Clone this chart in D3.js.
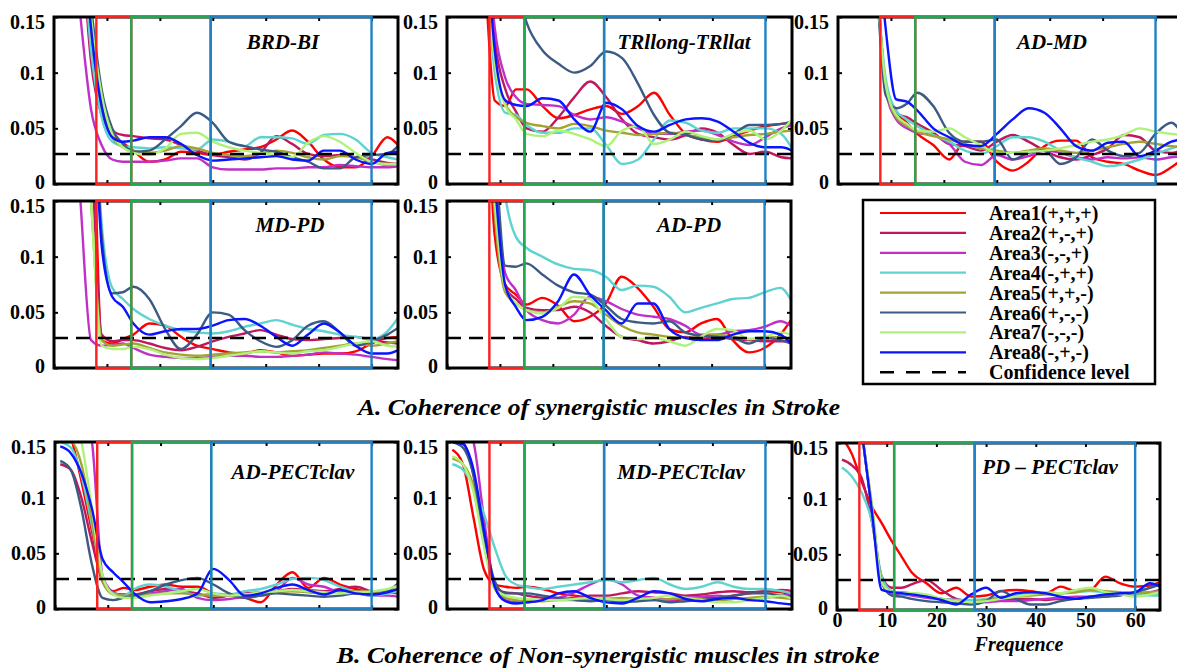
<!DOCTYPE html>
<html>
<head>
<meta charset="utf-8">
<script src="https://cdn.jsdelivr.net/npm/d3@7"></script>
<style>
  body { margin: 0; background: #fff; }
  svg { display: block; }
</style>
</head>
<body>
<div id="chart"></div>
<script>
// frequency samples (Hz) shared by every curve
const freqs = [1, 3, 5, 7, 9, 11, 13, 15, 18, 21, 24, 27, 30, 33, 36, 39, 42, 45, 48, 51, 54, 57, 60, 63, 65];

const areaNames = ['Area1(+,+,+)', 'Area2(+,-,+)', 'Area3(-,-,+)', 'Area4(-,+,+)',
  'Area5(+,+,-)', 'Area6(+,-,-)', 'Area7(-,-,-)', 'Area8(-,+,-)'];
const areaColors = ['#ff0000', '#c0185f', '#c030c8', '#5fd3cf', '#a3a332', '#3b5b84', '#aef27a', '#0a14ff'];

// coherence values are stored x1000
const yTicks = [0, 50, 100, 150];
const yTickLabels = ['0', '0.05', '0.1', '0.15'];
const xTicks = [0, 10, 20, 30, 40, 50, 60];
const xTickLabels = ['0', '10', '20', '30', '40', '50', '60'];
const confidenceLevel = 27;

// band boxes (Hz): red, green, blue
const bandEdges = [8, 14.6, 29.6, 60];
const bandEdgesPd = [4.5, 11.5, 27.7, 60];
const bandColors = ['#ff1f1f', '#22a84f', '#1f80c6'];

// A. synergistic muscles, one row per area
const brdBi = [
  [400, 350, 250, 120, 70, 45, 37, 30, 20, 22, 29, 28, 26, 29, 31, 33, 40, 48, 38, 22, 15, 15, 25, 42, 35],
  [400, 330, 230, 110, 62, 48, 44, 43, 41, 40, 35, 30, 26, 24, 22, 28, 43, 36, 27, 25, 26, 24, 22, 19, 18],
  [350, 250, 150, 67, 35, 22, 20, 20, 20, 21, 23, 23, 15, 13, 13, 13, 14, 14, 15, 15, 17, 16, 15, 15, 16],
  [400, 330, 240, 120, 60, 38, 34, 33, 32, 33, 32, 31, 40, 38, 34, 42, 42, 41, 36, 44, 45, 40, 28, 24, 22],
  [420, 360, 260, 140, 70, 42, 33, 30, 28, 30, 34, 32, 28, 26, 25, 27, 30, 28, 24, 22, 25, 24, 20, 17, 18],
  [400, 350, 260, 160, 85, 50, 36, 29, 30, 40, 52, 64, 55, 38, 34, 31, 29, 24, 20, 14, 14, 24, 26, 27, 34],
  [420, 360, 270, 150, 80, 45, 33, 28, 26, 32, 45, 46, 38, 33, 30, 28, 26, 24, 37, 43, 38, 28, 20, 18, 18],
  [420, 360, 260, 140, 70, 42, 38, 39, 42, 42, 36, 26, 21, 22, 23, 24, 25, 22, 21, 30, 30, 22, 18, 28, 29]
];
const trlongTrlat = [
  [500, 450, 350, 200, 75, 70, 85, 85, 70, 59, 62, 67, 70, 63, 70, 82, 62, 45, 40, 38, 43, 48, 52, 54, 55],
  [500, 450, 380, 260, 130, 85, 65, 50, 47, 60, 78, 92, 78, 58, 45, 42, 40, 44, 50, 46, 35, 27, 29, 24, 23],
  [500, 450, 380, 260, 140, 95, 78, 72, 71, 70, 62, 58, 60, 56, 50, 45, 45, 47, 48, 44, 38, 35, 42, 50, 53],
  [500, 450, 350, 220, 100, 64, 62, 53, 46, 46, 50, 50, 35, 18, 22, 40, 57, 55, 48, 46, 50, 50, 50, 45, 32],
  [500, 450, 360, 240, 110, 72, 60, 55, 52, 50, 54, 52, 48, 46, 44, 45, 46, 44, 42, 40, 42, 44, 45, 47, 48],
  [600, 550, 500, 450, 350, 250, 180, 145, 120, 108, 100, 106, 119, 113, 90, 62, 46, 44, 40, 39, 45, 53, 53, 54, 56],
  [500, 450, 350, 220, 110, 70, 58, 45, 43, 48, 45, 40, 34, 48, 52, 36, 40, 47, 43, 40, 45, 48, 40, 48, 58],
  [500, 450, 360, 250, 120, 75, 71, 70, 77, 75, 58, 47, 73, 67, 52, 47, 53, 58, 59, 56, 47, 37, 33, 33, 30]
];
const adMd = [
  [500, 400, 300, 200, 90, 65, 55, 45, 35, 22, 38, 38, 20, 12, 20, 34, 39, 39, 24, 20, 18, 12, 8, 15, 22],
  [500, 400, 300, 200, 90, 63, 60, 54, 46, 36, 34, 30, 38, 44, 38, 30, 24, 22, 26, 32, 44, 42, 30, 28, 30],
  [500, 400, 300, 200, 85, 58, 50, 46, 44, 36, 20, 17, 26, 22, 25, 30, 28, 24, 22, 24, 23, 24, 22, 24, 25],
  [500, 400, 300, 200, 95, 66, 58, 52, 44, 38, 30, 27, 34, 42, 42, 38, 30, 24, 20, 16, 18, 22, 27, 32, 35],
  [500, 400, 300, 200, 88, 60, 52, 47, 43, 40, 36, 32, 30, 28, 30, 32, 30, 28, 30, 33, 36, 38, 36, 34, 33],
  [500, 400, 300, 200, 80, 68, 72, 82, 70, 46, 38, 38, 40, 22, 28, 30, 18, 24, 40, 30, 25, 28, 45, 55, 45],
  [500, 400, 300, 200, 90, 62, 54, 48, 47, 50, 42, 35, 28, 28, 29, 30, 32, 35, 38, 40, 44, 50, 47, 45, 44],
  [500, 450, 350, 250, 140, 76, 74, 66, 50, 42, 35, 34, 45, 58, 68, 64, 50, 34, 30, 37, 38, 25, 30, 38, 40]
];
const mdPd = [
  [600, 500, 400, 300, 25, 22, 26, 30, 40, 38, 28, 20, 17, 14, 13, 16, 14, 11, 12, 13, 13, 15, 22, 27, 28],
  [500, 400, 300, 200, 30, 24, 25, 25, 22, 18, 16, 19, 24, 28, 31, 34, 30, 26, 25, 26, 27, 28, 25, 23, 22],
  [450, 300, 150, 25, 20, 21, 22, 18, 12, 10, 9, 9, 10, 11, 11, 10, 10, 11, 12, 14, 13, 12, 10, 8, 7],
  [600, 500, 400, 300, 130, 72, 62, 53, 44, 38, 34, 32, 31, 33, 37, 40, 43, 39, 35, 33, 30, 28, 26, 33, 45],
  [500, 400, 300, 150, 25, 20, 21, 22, 18, 14, 12, 11, 12, 13, 14, 15, 14, 15, 16, 18, 20, 22, 20, 22, 24],
  [600, 500, 400, 300, 120, 67, 68, 73, 62, 35, 17, 30, 50, 48, 34, 24, 19, 25, 38, 42, 32, 20, 24, 30, 36],
  [500, 400, 300, 150, 20, 17, 17, 19, 17, 12, 9, 8, 9, 11, 13, 15, 14, 13, 15, 16, 19, 22, 24, 20, 19],
  [600, 500, 400, 300, 110, 64, 55, 40, 30, 33, 35, 35, 38, 43, 44, 38, 28, 20, 30, 40, 32, 20, 13, 13, 16]
];
const adPd = [
  [600, 500, 400, 300, 120, 75, 66, 57, 63, 56, 42, 46, 58, 82, 72, 55, 35, 32, 40, 44, 25, 14, 18, 30, 43],
  [600, 500, 400, 300, 150, 72, 62, 54, 52, 52, 55, 50, 38, 28, 25, 22, 24, 28, 26, 28, 26, 25, 24, 24, 24],
  [600, 500, 400, 300, 170, 85, 70, 52, 43, 40, 48, 64, 60, 53, 48, 46, 44, 38, 30, 30, 33, 34, 37, 42, 38],
  [700, 600, 500, 400, 250, 155, 118, 108, 100, 93, 89, 88, 82, 70, 74, 73, 64, 50, 54, 58, 62, 63, 68, 72, 61],
  [600, 500, 400, 300, 140, 68, 58, 52, 50, 55, 60, 58, 48, 38, 32, 30, 28, 27, 28, 30, 28, 26, 27, 28, 26],
  [600, 500, 400, 300, 200, 92, 91, 94, 84, 74, 68, 66, 56, 44, 41, 40, 42, 32, 29, 28, 27, 22, 27, 25, 22],
  [600, 500, 400, 300, 150, 72, 58, 52, 49, 54, 64, 62, 44, 28, 26, 27, 24, 20, 28, 35, 34, 26, 28, 32, 30],
  [600, 500, 400, 300, 170, 74, 55, 43, 46, 60, 84, 66, 52, 40, 58, 58, 35, 27, 25, 25, 30, 33, 33, 30, 22]
];

// B. non-synergistic muscles
const adPect = [
  [180, 155, 115, 70, 25, 16, 19, 17, 20, 22, 20, 20, 14, 12, 10, 6, 22, 33, 19, 28, 22, 18, 15, 15, 16],
  [130, 125, 100, 60, 25, 14, 13, 13, 16, 18, 16, 14, 10, 12, 14, 15, 16, 18, 17, 16, 18, 20, 16, 15, 14],
  [200, 190, 180, 150, 30, 15, 12, 10, 14, 16, 18, 10, 8, 9, 11, 12, 16, 28, 22, 20, 15, 14, 12, 12, 11],
  [150, 145, 120, 75, 28, 14, 12, 18, 22, 20, 16, 12, 14, 13, 16, 18, 22, 27, 28, 26, 20, 15, 12, 14, 16],
  [150, 150, 130, 80, 25, 13, 12, 12, 13, 14, 14, 13, 12, 12, 13, 14, 15, 16, 15, 14, 15, 16, 15, 16, 18],
  [133, 125, 90, 40, 10, 8, 10, 12, 16, 22, 26, 28, 22, 14, 10, 12, 14, 13, 12, 11, 12, 14, 13, 16, 23],
  [155, 170, 150, 90, 30, 13, 10, 10, 12, 14, 16, 18, 14, 12, 13, 15, 16, 17, 16, 15, 14, 15, 16, 18, 21],
  [146, 140, 122, 90, 45, 33, 24, 14, 6, 7, 9, 14, 36, 26, 12, 14, 19, 22, 17, 13, 17, 14, 13, 15, 18]
];
const mdPect = [
  [143, 130, 82, 35, 22, 20, 19, 20, 18, 14, 12, 10, 9, 8, 9, 10, 8, 9, 10, 10, 12, 14, 16, 15, 13],
  [155, 150, 120, 60, 20, 15, 14, 12, 10, 9, 10, 12, 12, 14, 16, 15, 14, 12, 13, 15, 16, 15, 16, 17, 16],
  [180, 170, 150, 80, 20, 8, 6, 6, 8, 10, 15, 22, 27, 22, 12, 10, 8, 10, 11, 12, 10, 9, 10, 12, 13],
  [130, 125, 110, 85, 55, 30, 22, 20, 18, 20, 22, 24, 26, 24, 26, 28, 22, 18, 20, 24, 20, 18, 18, 16, 14],
  [135, 130, 110, 60, 18, 10, 8, 7, 7, 8, 8, 8, 9, 10, 9, 8, 9, 10, 9, 8, 9, 10, 11, 10, 9],
  [150, 145, 120, 65, 25, 14, 14, 14, 12, 10, 8, 7, 8, 6, 7, 8, 6, 7, 8, 10, 12, 14, 14, 12, 11],
  [137, 130, 105, 55, 18, 12, 10, 9, 8, 8, 9, 10, 9, 8, 9, 10, 12, 10, 8, 6, 6, 8, 10, 12, 9],
  [150, 148, 125, 70, 20, 7, 5, 6, 8, 14, 16, 10, 6, 5, 10, 16, 14, 9, 7, 9, 10, 8, 7, 5, 4]
];
const pdPect = [
  [155, 140, 115, 93, 78, 62, 48, 34, 24, 15, 20, 12, 13, 17, 18, 17, 15, 21, 17, 18, 30, 24, 21, 22, 25],
  [135, 130, 118, 80, 30, 20, 20, 23, 27, 18, 10, 8, 8, 9, 10, 10, 9, 10, 10, 12, 13, 14, 14, 15, 15],
  [250, 220, 160, 90, 25, 14, 14, 13, 11, 10, 9, 8, 7, 8, 8, 9, 10, 11, 12, 12, 12, 14, 15, 16, 18],
  [128, 120, 105, 80, 30, 17, 15, 14, 12, 10, 9, 9, 10, 12, 13, 14, 14, 15, 16, 17, 16, 15, 14, 13, 13],
  [250, 220, 160, 95, 25, 16, 16, 15, 13, 10, 8, 7, 9, 11, 12, 13, 14, 15, 16, 18, 17, 16, 15, 16, 17],
  [250, 220, 160, 90, 25, 13, 12, 10, 8, 7, 6, 5, 8, 17, 10, 5, 5, 8, 10, 11, 12, 13, 16, 20, 23],
  [250, 220, 160, 95, 25, 16, 15, 15, 14, 10, 8, 7, 8, 10, 12, 14, 16, 15, 18, 20, 16, 14, 12, 14, 16],
  [250, 220, 160, 90, 18, 16, 15, 14, 12, 9, 5, 14, 20, 11, 15, 16, 15, 12, 10, 12, 14, 15, 16, 24, 21]
];

const W = 1177, H = 669;
const serif = "'Liberation Serif', 'Times New Roman', Times, serif";

const panels = [
  { title: 'BRD-BI', data: brdBi, left: 54, top: 17, width: 344, height: 167, tx: 283, ty: 49, bands: bandEdges },
  { title: 'TRllong-TRllat', data: trlongTrlat, left: 447, top: 17, width: 345, height: 167, tx: 684, ty: 49, bands: bandEdges },
  { title: 'AD-MD', data: adMd, left: 838, top: 17, width: 344, height: 167, tx: 1052, ty: 49, bands: bandEdges },
  { title: 'MD-PD', data: mdPd, left: 54, top: 201, width: 344, height: 167, tx: 290, ty: 232, bands: bandEdges },
  { title: 'AD-PD', data: adPd, left: 447, top: 201, width: 344, height: 167, tx: 689, ty: 232, bands: bandEdges },
  { title: 'AD-PECTclav', data: adPect, left: 55, top: 442, width: 343, height: 167, tx: 293, ty: 479, bands: bandEdges },
  { title: 'MD-PECTclav', data: mdPect, left: 447, top: 442, width: 345, height: 167, tx: 681, ty: 479, bands: bandEdges },
  { title: 'PD \u2013 PECTclav', data: pdPect, left: 837, top: 443, width: 323, height: 167, tx: 1050, ty: 474, bands: bandEdgesPd, xLabels: true }
];

const svg = d3.select('#chart')
  .append('svg')
  .attr('width', W)
  .attr('height', H)
  .style('background', '#fff')
  .style('font-family', serif)
  .style('font-weight', 'bold');

panels.forEach((p, pi) => {
  const x = d3.scaleLinear().domain([0, 65]).range([p.left, p.left + p.width]);
  const y = d3.scaleLinear().domain([0, 150]).range([p.top + p.height, p.top]);
  const g = svg.append('g');

  g.append('clipPath')
    .attr('id', 'clip' + pi)
    .append('rect')
    .attr('x', p.left)
    .attr('y', p.top)
    .attr('width', p.width)
    .attr('height', p.height);

  // curves
  const line = d3.line()
    .x((d, i) => x(freqs[i]))
    .y((d) => y(d))
    .curve(d3.curveMonotoneX);
  g.append('g')
    .attr('clip-path', `url(#clip${pi})`)
    .selectAll('path')
    .data(p.data)
    .join('path')
    .attr('d', line)
    .attr('fill', 'none')
    .attr('stroke', (d, i) => areaColors[i])
    .attr('stroke-width', 2.4);

  // confidence level
  g.append('line')
    .attr('x1', p.left)
    .attr('x2', p.left + p.width)
    .attr('y1', y(confidenceLevel))
    .attr('y2', y(confidenceLevel))
    .attr('stroke', '#000')
    .attr('stroke-width', 2.5)
    .attr('stroke-dasharray', '14,8');

  // inward ticks on all four sides
  const tickStyle = (sel) => {
    sel.select('.domain').remove();
    sel.attr('font-family', null).attr('font-size', null);
    sel.selectAll('line').attr('stroke', '#000').attr('stroke-width', 2);
  };
  g.append('g')
    .attr('transform', `translate(0,${p.top})`)
    .call(d3.axisTop(x).tickValues(xTicks.slice(1)).tickSize(-4).tickFormat(''))
    .call(tickStyle);
  g.append('g')
    .attr('transform', `translate(0,${p.top + p.height})`)
    .call(d3.axisBottom(x).tickValues(xTicks).tickSize(-4).tickPadding(3)
      .tickFormat((d, i) => (p.xLabels ? xTickLabels[i] : '')))
    .call(tickStyle)
    .selectAll('text')
    .style('font-size', '20px')
    .attr('fill', '#000');
  g.append('g')
    .attr('transform', `translate(${p.left + p.width},0)`)
    .call(d3.axisRight(y).tickValues(yTicks).tickSize(-4).tickFormat(''))
    .call(tickStyle);
  g.append('g')
    .attr('transform', `translate(${p.left},0)`)
    .call(d3.axisLeft(y).tickValues(yTicks).tickSize(-4).tickPadding(9)
      .tickFormat((d, i) => yTickLabels[i]))
    .call(tickStyle)
    .selectAll('text')
    .style('font-size', '20px')
    .attr('fill', '#000')
    .attr('y', (d) => (d === 150 ? 5 : d === 0 ? -2 : 0));

  // frame
  g.append('rect')
    .attr('x', p.left)
    .attr('y', p.top)
    .attr('width', p.width)
    .attr('height', p.height)
    .attr('fill', 'none')
    .attr('stroke', '#000')
    .attr('stroke-width', 3);

  // band boxes, drawn over the frame
  g.selectAll('rect.band')
    .data(bandColors)
    .join('rect')
    .attr('class', 'band')
    .attr('x', (c, i) => x(p.bands[i]))
    .attr('y', p.top)
    .attr('width', (c, i) => x(p.bands[i + 1]) - x(p.bands[i]))
    .attr('height', p.height)
    .attr('fill', 'none')
    .attr('stroke', (c) => c)
    .attr('stroke-width', 2.4);

  g.append('text')
    .attr('x', p.tx)
    .attr('y', p.ty)
    .attr('text-anchor', 'middle')
    .style('font-style', 'italic')
    .style('font-size', '21px')
    .text(p.title);

  if (p.xLabels) {
    g.append('text')
      .attr('x', 1019)
      .attr('y', 651)
      .attr('text-anchor', 'middle')
      .style('font-style', 'italic')
      .style('font-size', '20px')
      .text('Frequence');
  }
});

// legend
const legend = svg.append('g');
legend.append('rect')
  .attr('x', 863)
  .attr('y', 200)
  .attr('width', 292)
  .attr('height', 184)
  .attr('fill', '#fff')
  .attr('stroke', '#000')
  .attr('stroke-width', 2.5);

const legendItems = areaNames.map((name, i) => ({ name, color: areaColors[i], dash: null }))
  .concat([{ name: 'Confidence level', color: '#000', dash: '14,12' }]);

const rows = legend.selectAll('g.row')
  .data(legendItems)
  .join('g')
  .attr('class', 'row')
  .attr('transform', (d, i) => `translate(0,${213 + i * 19.9})`);
rows.append('line')
  .attr('x1', 880)
  .attr('x2', 966)
  .attr('stroke', (d) => d.color)
  .attr('stroke-width', (d) => (d.dash ? 2.5 : 2.2))
  .attr('stroke-dasharray', (d) => d.dash);
rows.append('text')
  .attr('x', 989)
  .attr('y', 7)
  .style('font-size', '20px')
  .text((d) => d.name);

// captions
svg.append('text')
  .attr('x', 599)
  .attr('y', 415)
  .attr('text-anchor', 'middle')
  .attr('textLength', 482)
  .attr('lengthAdjust', 'spacingAndGlyphs')
  .style('font-style', 'italic')
  .style('font-size', '24px')
  .text('A. Coherence of synergistic muscles in Stroke');

svg.append('text')
  .attr('x', 608)
  .attr('y', 663)
  .attr('text-anchor', 'middle')
  .attr('textLength', 543)
  .attr('lengthAdjust', 'spacingAndGlyphs')
  .style('font-style', 'italic')
  .style('font-size', '24px')
  .text('B. Coherence of Non-synergistic muscles in stroke');
</script>
</body>
</html>
